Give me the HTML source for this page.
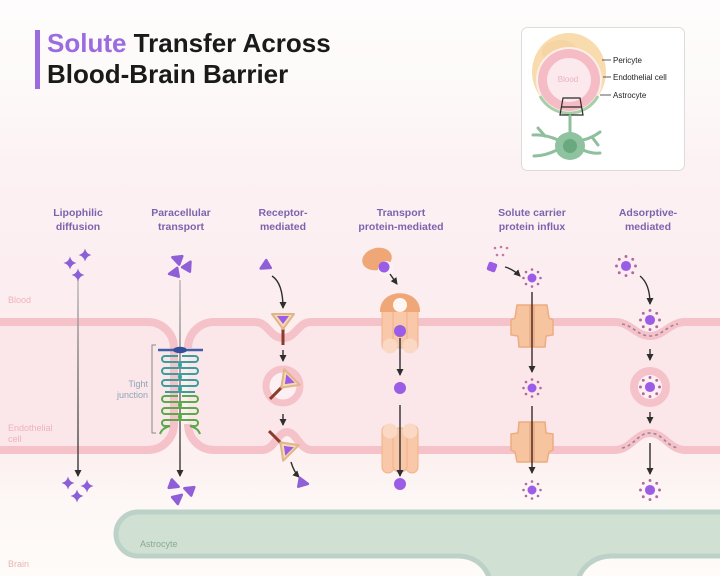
<!DOCTYPE html>
<html><head><meta charset="utf-8"><style>
html,body{margin:0;padding:0;background:#fdfafa;}
svg{display:block;}
text{font-family:"Liberation Sans",sans-serif;}
</style></head><body>
<svg width="720" height="576" viewBox="0 0 720 576" xmlns="http://www.w3.org/2000/svg">
<defs>
<linearGradient id="bg" x1="0" y1="0" x2="0" y2="576" gradientUnits="userSpaceOnUse">
<stop offset="0" stop-color="#fefcfc"/>
<stop offset="0.16" stop-color="#fdf9f9"/>
<stop offset="0.3" stop-color="#fcf1f3"/>
<stop offset="0.55" stop-color="#fcedef"/>
<stop offset="0.8" stop-color="#fcf1f0"/>
<stop offset="0.88" stop-color="#fdf8f6"/>
<stop offset="1" stop-color="#fefbf8"/>
</linearGradient>
<linearGradient id="ln" x1="0" y1="280" x2="0" y2="480" gradientUnits="userSpaceOnUse">
<stop offset="0" stop-color="#b9b3b5"/><stop offset="1" stop-color="#2e2e2e"/>
</linearGradient>
<marker id="ah" markerUnits="userSpaceOnUse" markerWidth="8" markerHeight="8" refX="6" refY="4" orient="auto">
<path d="M0,0.5 L7,4 L0,7.5 Z" fill="#2e2e2e"/>
</marker>
<path id="star" d="M0,-6.5 Q1.2,-1.2 6.5,0 Q1.2,1.2 0,6.5 Q-1.2,1.2 -6.5,0 Q-1.2,-1.2 0,-6.5 Z" fill="#8b5fd6"/>
<path id="tri" d="M-4,-4.5 L5,0 L-4,4.5 Z" fill="#8f5fd8" stroke="#8f5fd8" stroke-width="2.5" stroke-linejoin="round"/>
<g id="pt">
<circle r="4.5" fill="#9b5de5"/>
<g fill="#b0689f">
<circle cx="8.5" cy="0" r="1.3"/><circle cx="6" cy="6" r="1.3"/><circle cx="0" cy="8.5" r="1.3"/><circle cx="-6" cy="6" r="1.3"/>
<circle cx="-8.5" cy="0" r="1.3"/><circle cx="-6" cy="-6" r="1.3"/><circle cx="0" cy="-8.5" r="1.3"/><circle cx="6" cy="-6" r="1.3"/>
</g>
</g>
<g id="rec">
<line x1="0" y1="6" x2="0" y2="24" stroke="#8a3b2b" stroke-width="3"/>
<path d="M-11,-7 L11,-7 L0,8 Z" fill="#f6d9b5" stroke="#e2b58a" stroke-width="2" stroke-linejoin="round"/>
<path d="M-6,-5 L6,-5 L0,3 Z" fill="#9b5de5"/>
</g>
<path id="sl" d="M178,356 H165 a3,3 0 0 0 0,6 H178 a3,3 0 0 1 0,6 H165 a3,3 0 0 0 0,6 H178 a3,3 0 0 1 0,6 H165 a3,3 0 0 0 0,6 H178 a3,3 0 0 1 0,6 H165" fill="none" stroke="#3a9e9c" stroke-width="2"/>
<path id="sl2" d="M178,396 H165 a3,3 0 0 0 0,6 H178 a3,3 0 0 1 0,6 H165 a3,3 0 0 0 0,6 H178 a3,3 0 0 1 0,6 H165 a3,3 0 0 0 0,6 H170 Q162,428 160,434" fill="none" stroke="#5aa94a" stroke-width="2"/>
</defs>

<rect width="720" height="576" fill="url(#bg)"/>

<!-- Title -->
<rect x="35" y="30" width="5" height="59" fill="#9b6be0"/>
<text x="47" y="52" font-size="26" font-weight="bold" fill="#1a1a1a"><tspan fill="#9b6be0">Solute</tspan> Transfer Across</text>
<text x="47" y="83" font-size="26" font-weight="bold" fill="#1a1a1a">Blood-Brain Barrier</text>

<!-- Inset -->
<rect x="521.5" y="27.5" width="163" height="143" rx="6" fill="#ffffff" stroke="#dcdcdc"/>
<ellipse cx="569" cy="72" rx="37" ry="39" fill="#f8dcae"/>
<ellipse cx="560" cy="52" rx="18" ry="12" fill="#f5cf9c" opacity="0.6"/>
<circle cx="569" cy="80" r="33" fill="#fbefe8"/>
<circle cx="569" cy="80" r="31" fill="#f5bcc6"/>
<circle cx="569" cy="80" r="22" fill="#fbe9ee"/>
<path d="M540,96 A33,33 0 0 0 598,96" fill="none" stroke="#a9cfa8" stroke-width="3"/>
<text x="568" y="82" font-size="8" fill="#eab3bd" text-anchor="middle">Blood</text>
<path d="M563,98 L580,98 L583,115 L560,115 Z M561.5,107 L581.5,107" fill="none" stroke="#2a2a2a" stroke-width="1.2"/>
<g stroke="#90bf9e" stroke-width="3" fill="none" stroke-linecap="round">
<path d="M570,116 L570,135"/>
<path d="M558,140 Q545,134 533,135 M545,136 L538,128"/>
<path d="M557,150 Q545,156 534,156"/>
<path d="M583,140 Q592,138 600,132 M592,137 L598,145"/>
<path d="M583,150 Q592,154 600,153"/>
</g>
<ellipse cx="570" cy="146" rx="15" ry="14" fill="#8fc29f"/>
<circle cx="570" cy="146" r="7" fill="#6aa87f"/>
<g stroke="#333" stroke-width="0.8"><line x1="602" y1="60" x2="611" y2="60"/><line x1="603" y1="77" x2="611" y2="77"/><line x1="600" y1="95" x2="611" y2="95"/></g>
<g font-size="8" fill="#222"><text x="613" y="63">Pericyte</text><text x="613" y="80">Endothelial cell</text><text x="613" y="98">Astrocyte</text></g>

<!-- Column labels -->
<g font-size="10.5" font-weight="bold" fill="#7f62ad" text-anchor="middle">
<text x="78" y="216">Lipophilic</text><text x="78" y="230">diffusion</text>
<text x="181" y="216">Paracellular</text><text x="181" y="230">transport</text>
<text x="283" y="216">Receptor-</text><text x="283" y="230">mediated</text>
<text x="401" y="216">Transport</text><text x="401" y="230">protein-mediated</text>
<text x="532" y="216">Solute carrier</text><text x="532" y="230">protein influx</text>
<text x="648" y="216">Adsorptive-</text><text x="648" y="230">mediated</text>
</g>

<!-- Cells -->
<path d="M0,322 H148 A26,26 0 0 1 174,348 V424 A26,26 0 0 1 148,450 H0 Z" fill="#fbe6e9"/>
<path d="M188,348 A26,26 0 0 1 214,322 H255 C268,322 270,338 283,338 C296,338 298,322 311,322 H615 C630,322 636,336 650,336 C664,336 670,322 685,322 H720 V450 H685 C670,450 664,433 650,433 C636,433 630,450 615,450 H312 C299,450 297,432 287,432 C277,432 275,450 262,450 H214 A26,26 0 0 1 188,424 Z" fill="#fbe6e9"/>
<g fill="none" stroke="#f5c2c9" stroke-width="8">
<path d="M0,322 H148 A26,26 0 0 1 174,348 V424 A26,26 0 0 1 148,450 H0"/>
<path d="M188,348 A26,26 0 0 1 214,322 H255 C268,322 270,338 283,338 C296,338 298,322 311,322 H615 C630,322 636,336 650,336 C664,336 670,322 685,322 H720"/>
<path d="M188,424 A26,26 0 0 0 214,450 H262 C275,450 277,432 287,432 C297,432 299,450 312,450 H615 C630,450 636,433 650,433 C664,433 670,450 685,450 H720"/>
</g>
<!-- adsorptive dashes -->
<g fill="none" stroke="#a08298" stroke-width="1.6" stroke-dasharray="3,3">
<path d="M622,324 C634,326 638,336 650,336 C662,336 666,326 678,324"/>
<path d="M622,448 C634,446 638,433 650,433 C662,433 666,446 678,448"/>
</g>

<!-- side labels -->
<g font-size="9" fill="#efb3bc">
<text x="8" y="303">Blood</text>
<text x="8" y="431">Endothelial</text>
<text x="8" y="442">cell</text>
</g>

<!-- Astrocyte bottom -->
<path d="M138,512 H724 V556 H612 C595,556 582,566 578,580 H490 C486,566 475,556 457,556 H138 A22,22 0 0 1 116,534 A22,22 0 0 1 138,512 Z" fill="#d0e0d2" stroke="#bcd2c8" stroke-width="5"/>
<text x="140" y="547" font-size="9" fill="#8aaa92">Astrocyte</text>
<text x="8" y="567" font-size="9" fill="#e8b4b0">Brain</text>

<!-- Column 1: lipophilic -->
<line x1="78" y1="280" x2="78" y2="476" stroke="url(#ln)" stroke-width="1.4" marker-end="url(#ah)"/>
<use href="#star" x="70" y="263"/><use href="#star" x="85" y="255"/><use href="#star" x="78" y="275"/>
<use href="#star" x="68" y="483"/><use href="#star" x="87" y="486"/><use href="#star" x="77" y="496"/>

<!-- Column 2: paracellular -->
<line x1="180" y1="280" x2="180" y2="476" stroke="url(#ln)" stroke-width="1.4" marker-end="url(#ah)"/>
<use href="#sl"/><use href="#sl2"/>
<g transform="translate(360,0) scale(-1,1)"><use href="#sl"/><use href="#sl2"/></g>
<line x1="158" y1="350" x2="203" y2="350" stroke="#3f5fa8" stroke-width="2.5"/>
<ellipse cx="180" cy="350" rx="7" ry="3.2" fill="#34509a"/>
<path d="M156,345 H152 V433 H156" fill="none" stroke="#8a8a8a" stroke-width="1"/>
<g font-size="9" fill="#8ea5b8" text-anchor="end"><text x="148" y="387">Tight</text><text x="148" y="398">junction</text></g>
<use href="#tri" transform="translate(177,259) rotate(200)"/>
<use href="#tri" transform="translate(188,266) rotate(-60)"/>
<use href="#tri" transform="translate(174,273) rotate(170)"/>
<use href="#tri" transform="translate(174,485) rotate(20)"/>
<use href="#tri" transform="translate(189,490) rotate(200)"/>
<use href="#tri" transform="translate(178,498) rotate(-40)"/>

<!-- Column 3: receptor -->
<use href="#tri" transform="translate(265,266) rotate(150)"/>
<path d="M272,276 Q283,283 283,308" fill="none" stroke="#2e2e2e" stroke-width="1.4" marker-end="url(#ah)"/>
<use href="#rec" transform="translate(283,321)"/>
<line x1="283" y1="350" x2="283" y2="361" stroke="#2e2e2e" stroke-width="1.4" marker-end="url(#ah)"/>
<circle cx="283" cy="386" r="17" fill="#fdf0f2" stroke="#f5c2c9" stroke-width="7"/>
<use href="#rec" transform="translate(287,382) rotate(45)"/>
<line x1="283" y1="414" x2="283" y2="425" stroke="#2e2e2e" stroke-width="1.4" marker-end="url(#ah)"/>
<use href="#rec" transform="translate(286,448) rotate(135)"/>
<path d="M291,462 Q294,472 299,477" fill="none" stroke="#2e2e2e" stroke-width="1.4" marker-end="url(#ah)"/>
<use href="#tri" transform="translate(303,483) rotate(10)"/>

<!-- Column 4: transport protein -->
<ellipse cx="377" cy="259" rx="15" ry="11" fill="#f0a778" transform="rotate(-15 377 259)"/>
<circle cx="386" cy="269" r="8" fill="#fcf1f3"/>
<circle cx="384" cy="267" r="5.5" fill="#9b5de5"/>
<line x1="390" y1="274" x2="397" y2="284" stroke="#2e2e2e" stroke-width="1.4" marker-end="url(#ah)"/>
<g fill="#f8c8a8" stroke="#efb18c" stroke-width="1">
<rect x="382" y="305" width="12" height="46" rx="6"/>
<rect x="406" y="305" width="12" height="46" rx="6"/>
<rect x="393" y="308" width="14" height="40" rx="6"/>
</g>
<circle cx="390" cy="346" r="7.5" fill="#fad8c4"/><circle cx="410" cy="346" r="7.5" fill="#fad8c4"/>
<path d="M380,312 C379,287 421,287 420,312 Z" fill="#f0a778"/>
<circle cx="400" cy="305" r="7" fill="#fdf6f3"/>
<circle cx="400" cy="331" r="6" fill="#9b5de5"/>
<line x1="400" y1="338" x2="400" y2="375" stroke="#2e2e2e" stroke-width="1.4" marker-end="url(#ah)"/>
<circle cx="400" cy="388" r="6" fill="#9b5de5"/>
<g fill="#f8c8a8" stroke="#efb18c" stroke-width="1">
<rect x="382" y="425" width="12" height="48" rx="6"/>
<rect x="406" y="425" width="12" height="48" rx="6"/>
<rect x="393" y="428" width="14" height="44" rx="6"/>
</g>
<circle cx="390" cy="431" r="7.5" fill="#fad8c4"/><circle cx="410" cy="431" r="7.5" fill="#fad8c4"/>
<line x1="400" y1="405" x2="400" y2="476" stroke="#2e2e2e" stroke-width="1.4" marker-end="url(#ah)"/>
<circle cx="400" cy="484" r="6" fill="#9b5de5"/>

<!-- Column 5: solute carrier -->
<g fill="#c27aa8"><circle cx="495" cy="248" r="1.3"/><circle cx="501" cy="247" r="1.3"/><circle cx="507" cy="248" r="1.3"/><circle cx="497" cy="255" r="1.3"/><circle cx="503" cy="255" r="1.3"/></g>
<rect x="487.5" y="262.5" width="9" height="9" rx="2" fill="#9b5de5" transform="rotate(20 492 267)"/>
<path d="M505,267 Q513,269 520,276" fill="none" stroke="#2e2e2e" stroke-width="1.4" marker-end="url(#ah)"/>
<use href="#pt" x="532" y="278"/>
<path d="M517,305 H547 L549,318 L553,320 V335 L546,336 L545,347 H519 L518,336 L511,335 V320 L515,318 Z" fill="#f7c4a0" stroke="#eeac80" stroke-width="1.5" stroke-linejoin="round"/>
<path d="M519,422 H545 L546,433 L553,434 V450 L549,452 L547,462 H517 L515,452 L511,450 V434 L518,433 Z" fill="#f7c4a0" stroke="#eeac80" stroke-width="1.5" stroke-linejoin="round"/>
<rect x="529" y="305" width="6" height="42" fill="#e9a47a" opacity="0.6"/>
<rect x="529" y="422" width="6" height="40" fill="#e9a47a" opacity="0.6"/>
<line x1="532" y1="292" x2="532" y2="372" stroke="#3a2a24" stroke-width="1.4" marker-end="url(#ah)"/>
<use href="#pt" x="532" y="388"/>
<line x1="532" y1="406" x2="532" y2="473" stroke="#3a2a24" stroke-width="1.4" marker-end="url(#ah)"/>
<use href="#pt" x="532" y="490"/>

<!-- Column 6: adsorptive -->
<use href="#pt" transform="translate(626,266) scale(1.12)"/>
<path d="M640,276 Q650,284 650,304" fill="none" stroke="#2e2e2e" stroke-width="1.4" marker-end="url(#ah)"/>
<use href="#pt" transform="translate(650,320) scale(1.12)"/>
<line x1="650" y1="349" x2="650" y2="360" stroke="#2e2e2e" stroke-width="1.4" marker-end="url(#ah)"/>
<circle cx="650" cy="387" r="16" fill="#fdf0f2" stroke="#f5c2c9" stroke-width="8"/>
<use href="#pt" transform="translate(650,387) scale(1.12)"/>
<line x1="650" y1="412" x2="650" y2="423" stroke="#2e2e2e" stroke-width="1.4" marker-end="url(#ah)"/>
<line x1="650" y1="443" x2="650" y2="474" stroke="#2e2e2e" stroke-width="1.4" marker-end="url(#ah)"/>
<use href="#pt" transform="translate(650,490) scale(1.12)"/>
</svg>
</body></html>
